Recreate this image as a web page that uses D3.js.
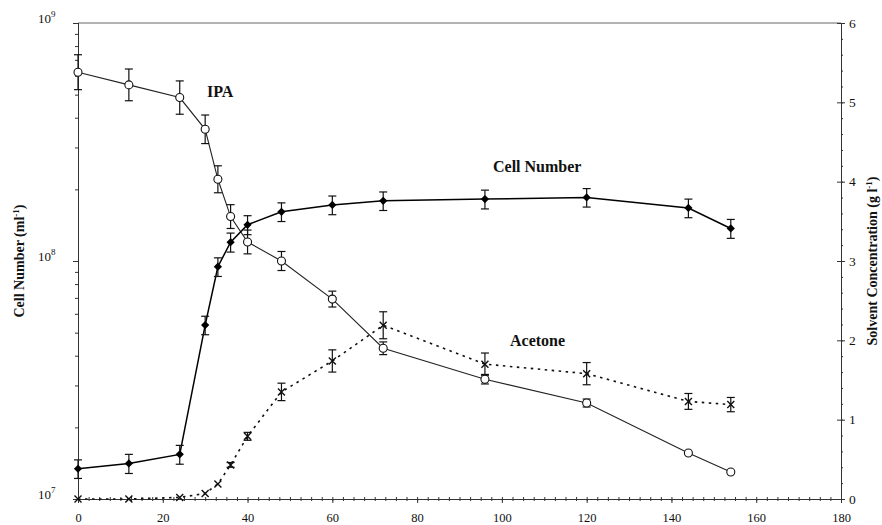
<!DOCTYPE html>
<html>
<head>
<meta charset="utf-8">
<script src="https://cdn.jsdelivr.net/npm/d3@7"></script>
<style>
  body { margin: 0; background: #fff; }
  svg text { font-family: "Liberation Serif", "DejaVu Serif", serif; fill: #111; }
</style>
</head>
<body>
<div id="chart"></div>
<script>
// --- data ---
const hours = [0, 12, 24, 30, 33, 36, 40, 48, 60, 72, 96, 120, 144, 154];
const cellNumber = [1.34e7, 1.41e7, 1.54e7, 5.38e7, 9.46e7, 1.20e8, 1.42e8, 1.61e8, 1.72e8, 1.79e8, 1.82e8, 1.85e8, 1.67e8, 1.37e8];
const cellErr = [1.2e6, 1.3e6, 1.4e6, 4.8e6, 8.5e6, 1.1e7, 1.3e7, 1.45e7, 1.55e7, 1.6e7, 1.65e7, 1.65e7, 1.5e7, 1.25e7];
const ipa = [5.38, 5.22, 5.06, 4.66, 4.03, 3.56, 3.24, 3.00, 2.52, 1.90, 1.51, 1.21, 0.58, 0.34];
const ipaErr = [0.22, 0.20, 0.21, 0.18, 0.17, 0.15, 0.15, 0.12, 0.10, 0.08, 0.06, 0.05, 0, 0];
const acetone = [0, 0, 0.02, 0.07, 0.19, 0.43, 0.79, 1.35, 1.74, 2.19, 1.70, 1.58, 1.23, 1.19];
const acetoneErr = [0, 0, 0, 0, 0, 0.03, 0.05, 0.11, 0.14, 0.17, 0.14, 0.14, 0.10, 0.09];

const xTicks = [0, 20, 40, 60, 80, 100, 120, 140, 160, 180];
const leftTicks = [1e7, 1e8, 1e9];
const rightTicks = [0, 1, 2, 3, 4, 5, 6];

const width = 882, height = 525;
const plot = { left: 78, right: 841, top: 23, bottom: 499 };
const serif = "'Liberation Serif', 'DejaVu Serif', serif";

const svg = d3.select("#chart").append("svg")
  .attr("width", width)
  .attr("height", height)
  .attr("font-family", serif);

const x = d3.scaleLinear().domain([0, 180]).range([plot.left, plot.right]);
const yL = d3.scaleLog().domain([1e7, 1e9]).range([plot.bottom, plot.top]);
const yR = d3.scaleLinear().domain([0, 6]).range([plot.bottom, plot.top]);

// === frame ===
svg.append("line")
  .attr("x1", plot.left).attr("x2", plot.right)
  .attr("y1", plot.top).attr("y2", plot.top)
  .attr("stroke", "#666").attr("stroke-width", 1);

// === axes ===
function styleAxis(g) {
  g.attr("font-family", serif);
  g.select(".domain").attr("stroke", "#333");
  g.selectAll(".tick line").attr("stroke", "#333");
  g.selectAll("text").attr("font-family", serif).attr("font-size", 12.5).attr("fill", "#111");
}

// x axis: major + minor ticks crossing the line
const xMinor = d3.range(0, 180.01, 2.5);
svg.append("g")
  .attr("transform", `translate(0,${plot.bottom})`)
  .call(d3.axisBottom(x).tickValues(xMinor).tickSize(2).tickFormat(""))
  .call(styleAxis);
svg.append("g")
  .attr("transform", `translate(0,${plot.bottom})`)
  .call(d3.axisTop(x).tickValues(xMinor).tickSize(2).tickFormat(""))
  .call(g => g.select(".domain").remove())
  .call(styleAxis);
svg.append("g")
  .attr("transform", `translate(0,${plot.bottom})`)
  .call(d3.axisBottom(x).tickValues(xTicks).tickSize(4).tickPadding(10))
  .call(styleAxis);

// left log axis
const leftMinor = [];
[1e7, 1e8].forEach(b => { for (let k = 2; k <= 9; k++) leftMinor.push(b * k); });
svg.append("g")
  .attr("transform", `translate(${plot.left},0)`)
  .call(d3.axisLeft(yL).tickValues(leftMinor).tickSize(3).tickFormat(""))
  .call(styleAxis);
const leftAxis = svg.append("g")
  .attr("transform", `translate(${plot.left},0)`)
  .call(d3.axisLeft(yL).tickValues(leftTicks).tickSize(5).tickFormat(""))
  .call(styleAxis);
leftAxis.selectAll(".tick").append("text")
  .attr("x", -40).attr("y", -1)
  .attr("text-anchor", "start")
  .attr("font-family", serif)
  .attr("font-size", 13)
  .attr("fill", "#111")
  .each(function (d) {
    const t = d3.select(this);
    t.append("tspan").text("10");
    t.append("tspan").attr("dy", -6).attr("font-size", 9).text(Math.round(Math.log10(d)));
  });

// right linear axis
const rightMinor = d3.range(0, 6.001, 0.2);
svg.append("g")
  .attr("transform", `translate(${plot.right},0)`)
  .call(d3.axisRight(yR).tickValues(rightMinor).tickSize(2).tickFormat(""))
  .call(styleAxis);
svg.append("g")
  .attr("transform", `translate(${plot.right},0)`)
  .call(d3.axisLeft(yR).tickValues(rightTicks).tickSize(4).tickFormat(""))
  .call(g => g.select(".domain").remove())
  .call(styleAxis);
svg.append("g")
  .attr("transform", `translate(${plot.right},0)`)
  .call(d3.axisRight(yR).tickValues(rightTicks).tickSize(4).tickPadding(4).tickFormat(d3.format("d")))
  .call(styleAxis)
  .call(g => g.selectAll("text").attr("font-size", 13.5));

// axis titles
svg.append("text")
  .attr("transform", `translate(24,${(plot.top + plot.bottom) / 2}) rotate(-90)`)
  .attr("text-anchor", "middle")
  .attr("font-size", 14)
  .attr("font-weight", "bold")
  .call(t => {
    t.append("tspan").text("Cell Number (ml");
    t.append("tspan").attr("dy", -5).attr("font-size", 9).text("-1");
    t.append("tspan").attr("dy", 5).text(")");
  });

svg.append("text")
  .attr("transform", `translate(877,${(plot.top + plot.bottom) / 2}) rotate(-90)`)
  .attr("text-anchor", "middle")
  .attr("font-size", 14)
  .attr("font-weight", "bold")
  .call(t => {
    t.append("tspan").text("Solvent Concentration (g l");
    t.append("tspan").attr("dy", -5).attr("font-size", 9).text("-1");
    t.append("tspan").attr("dy", 5).text(")");
  });

// === series ===
const cellData = hours.map((h, i) => ({ x: h, y: cellNumber[i], e: cellErr[i] }));
const ipaData = hours.map((h, i) => ({ x: h, y: ipa[i], e: ipaErr[i] }));
const acetoneData = hours.map((h, i) => ({ x: h, y: acetone[i], e: acetoneErr[i] }));

function drawErrorBars(data, yScale) {
  const g = svg.append("g").attr("stroke", "#111").attr("stroke-width", 1.2);
  const rows = data.filter(d => d.e > 0);
  g.selectAll("line.v").data(rows).join("line")
    .attr("x1", d => x(d.x)).attr("x2", d => x(d.x))
    .attr("y1", d => yScale(d.y + d.e)).attr("y2", d => yScale(d.y - d.e));
  g.selectAll("line.top").data(rows).join("line")
    .attr("x1", d => x(d.x) - 4).attr("x2", d => x(d.x) + 4)
    .attr("y1", d => yScale(d.y + d.e)).attr("y2", d => yScale(d.y + d.e));
  g.selectAll("line.bot").data(rows).join("line")
    .attr("x1", d => x(d.x) - 4).attr("x2", d => x(d.x) + 4)
    .attr("y1", d => yScale(d.y - d.e)).attr("y2", d => yScale(d.y - d.e));
}

// acetone (dotted)
svg.append("path")
  .datum(acetoneData)
  .attr("fill", "none")
  .attr("stroke", "#111")
  .attr("stroke-width", 1.6)
  .attr("stroke-dasharray", "2.5,4.5")
  .attr("d", d3.line().x(d => x(d.x)).y(d => yR(d.y)));
drawErrorBars(acetoneData, yR);
svg.append("g")
  .selectAll("path")
  .data(acetoneData)
  .join("path")
  .attr("transform", d => `translate(${x(d.x)},${yR(d.y)})`)
  .attr("d", "M-3.5,-3.5L3.5,3.5M-3.5,3.5L3.5,-3.5")
  .attr("stroke", "#111")
  .attr("stroke-width", 1.4);

// IPA (open circles)
svg.append("path")
  .datum(ipaData)
  .attr("fill", "none")
  .attr("stroke", "#222")
  .attr("stroke-width", 1.1)
  .attr("d", d3.line().x(d => x(d.x)).y(d => yR(d.y)));
drawErrorBars(ipaData, yR);
svg.append("g")
  .selectAll("circle")
  .data(ipaData)
  .join("circle")
  .attr("cx", d => x(d.x))
  .attr("cy", d => yR(d.y))
  .attr("r", 4)
  .attr("fill", "#fff")
  .attr("stroke", "#111")
  .attr("stroke-width", 1.1);

// cell number (filled diamonds)
svg.append("path")
  .datum(cellData)
  .attr("fill", "none")
  .attr("stroke", "#000")
  .attr("stroke-width", 1.5)
  .attr("d", d3.line().x(d => x(d.x)).y(d => yL(d.y)));
drawErrorBars(cellData, yL);
svg.append("g")
  .selectAll("path")
  .data(cellData)
  .join("path")
  .attr("transform", d => `translate(${x(d.x)},${yL(d.y)}) rotate(45)`)
  .attr("d", d3.symbol().type(d3.symbolSquare).size(34))
  .attr("fill", "#000");

// series labels
const labels = [
  { text: "IPA", x: 207, y: 97 },
  { text: "Cell Number", x: 493, y: 172 },
  { text: "Acetone", x: 510, y: 346 }
];
svg.append("g")
  .selectAll("text")
  .data(labels)
  .join("text")
  .attr("x", d => d.x)
  .attr("y", d => d.y)
  .attr("font-size", 16)
  .attr("font-weight", "bold")
  .text(d => d.text);
</script>
</body>
</html>
